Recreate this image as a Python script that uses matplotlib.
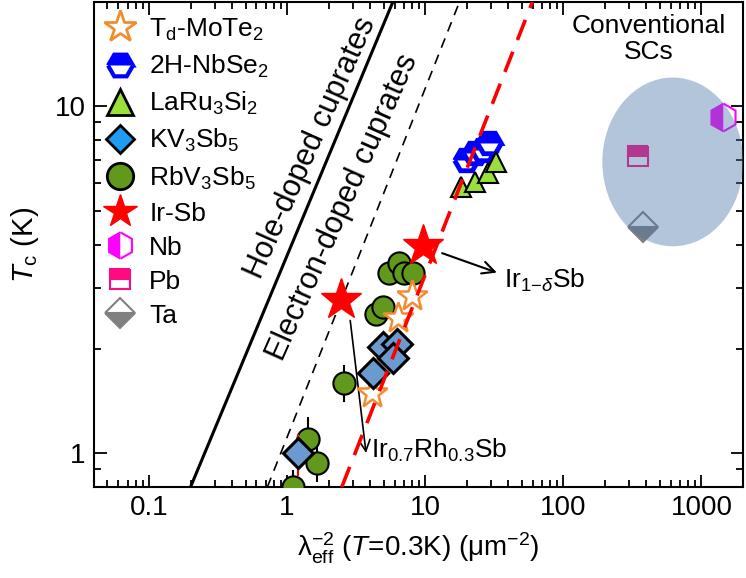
import numpy as np
import matplotlib
matplotlib.use('Agg')
import matplotlib.pyplot as plt
from matplotlib.lines import Line2D
from matplotlib.patches import Ellipse
from matplotlib import ticker

plt.rcParams['font.family'] = ['Liberation Sans', 'DejaVu Sans']
plt.rcParams['mathtext.fontset'] = 'custom'
plt.rcParams['mathtext.rm'] = 'Liberation Sans'
plt.rcParams['mathtext.it'] = 'Liberation Sans:italic'
plt.rcParams['mathtext.bf'] = 'Liberation Sans:bold'

# data
mote2_x = [4.11, 6.33, 8.0]
mote2_y = [1.49, 2.45, 2.85]
nbse2_x = [19.9, 22.8, 26.0, 29.2]
nbse2_y = [6.99, 7.32, 7.47, 7.82]
laru_x = [18.3, 22.8, 28.3, 32.3]
laru_y = [5.84, 6.04, 6.45, 6.9]
kv_x = [1.2, 4.18, 4.93, 6.23, 5.83]
kv_y = [1.0, 1.70, 2.02, 2.07, 1.88]
kv_err = [0.14, 0.06, 0.06, 0.06, 0.06]
rb_x = [1.10, 1.42, 1.65, 2.58, 4.39, 4.93, 5.5, 6.5, 7.0, 8.1]
rb_y = [0.80, 1.10, 0.94, 1.60, 2.53, 2.64, 3.30, 3.53, 3.32, 3.32]
rb_err = [0.12, 0.16, 0.12, 0.12, 0.06, 0.06, 0.06, 0.08, 0.06, 0.06]
irsb_x = [2.45, 9.6]
irsb_y = [2.76, 3.97]
nb_x, nb_y = [1430], [9.3]
pb_x, pb_y = [348], [7.18]
ta_x, ta_y = [378], [4.48]

# guide lines (end points)
hole_x, hole_y = [0.2, 5.83], [0.8, 20]
elec_x, elec_y = [0.72, 17.7], [0.8, 20]
red_x, red_y = [2.49, 59.7], [0.8, 20]

fig = plt.figure(figsize=(7.46, 5.78), dpi=100)
ax = fig.add_axes([94/746, 91/578, 649/746, 485/578])
ax.set_xscale('log')
ax.set_yscale('log')
ax.set_xlim(0.04, 2000)
ax.set_ylim(0.8, 20)

ax.plot(hole_x, hole_y, color='black', lw=2.2, zorder=2)
ax.plot(elec_x, elec_y, color='black', lw=1.2, ls=(0, (6, 4.5)), zorder=2)

# conventional SCs, under the shaded ellipse
ax.plot(nb_x, nb_y, 'h', ms=20, fillstyle='left', mfc='magenta', mfcalt='white',
        mec='magenta', mew=1.5, ls='', zorder=3)
ax.plot(pb_x, pb_y, 's', ms=15, fillstyle='top', mfc='#ff0a80', mfcalt='white',
        mec='#ff0a80', mew=1.5, ls='', zorder=3)
ax.plot(ta_x, ta_y, 'D', ms=15, fillstyle='bottom', mfc='#808080', mfcalt='white',
        mec='#808080', mew=1.5, ls='', zorder=3)
tr = ax.transScale + ax.transLimits
ex, ey = tr.transform((620, 6.92))
ax.add_patch(Ellipse((ex, ey), 0.217, 0.348, transform=ax.transAxes,
                     facecolor='#4a76a8', alpha=0.42, edgecolor='none', zorder=4))

# materials
ax.errorbar(laru_x, laru_y, yerr=np.array(laru_y)*0.05, fmt='^', ms=15, mfc='#9be03a',
            mec='black', mew=1.5, ecolor='black', elinewidth=1.2, capsize=0, zorder=5)
ax.plot(nbse2_x, nbse2_y, 'H', ms=17, fillstyle='top', mfc='blue', mfcalt='white',
        mec='blue', mew=3.5, ls='', zorder=5)
ax.errorbar(rb_x, rb_y, yerr=np.array(rb_y)*np.array(rb_err), fmt='o', ms=16, mfc='#62991c',
            mec='black', mew=1.5, ecolor='black', elinewidth=1.5, capsize=0, zorder=5)
ax.errorbar(kv_x, kv_y, yerr=np.array(kv_y)*np.array(kv_err), fmt='D', ms=15.5, mfc='#6a9bd0',
            mec='black', mew=2.2, ecolor='red', elinewidth=1.5, capsize=0, zorder=6)
ax.plot(mote2_x, mote2_y, '*', ms=23, mfc='white', mec='#f28c30', mew=1.8, ls='', zorder=6)
ax.plot(irsb_x, irsb_y, '*', ms=31, color='red', mec='red', ls='', zorder=7)

ax.plot(red_x, red_y, color='red', lw=2.6, ls=(0, (6, 3.5)), zorder=8)

# annotations
ax.annotate('', xy=(34.5, 3.30), xytext=(12.7, 3.80),
            arrowprops=dict(arrowstyle='->', color='black', lw=1.5, mutation_scale=22))
ax.text(37.5, 3.01, r'Ir$_{1\mathrm{-}\delta}$Sb', fontsize=19, ha='left', va='baseline')
ax.annotate('', xy=(3.75, 0.985), xytext=(2.85, 2.46),
            arrowprops=dict(arrowstyle='->', color='black', lw=1.2, mutation_scale=20))
ax.text(4.05, 0.974, r'Ir$_{0.7}$Rh$_{0.3}$Sb', fontsize=19, ha='left', va='baseline')

ax.text(1.49, 7.62, 'Hole-doped cuprates', fontsize=22, rotation=66,
        ha='center', va='center', rotation_mode='anchor')
ax.text(2.54, 5.12, 'Electron-doped cuprates', fontsize=22, rotation=66,
        ha='center', va='center', rotation_mode='anchor')
ax.text(0.855, 0.975, 'Conventional\nSCs', transform=ax.transAxes, fontsize=19,
        ha='center', va='top', linespacing=1.1)

# axes styling
for s in ax.spines.values():
    s.set_linewidth(1.5)
ax.tick_params(which='both', direction='in', top=True, right=True, width=1.3)
ax.tick_params(which='major', length=9, labelsize=20, pad=6)
ax.tick_params(which='minor', length=5)
ax.xaxis.set_major_locator(ticker.LogLocator(base=10, numticks=10))
ax.xaxis.set_major_formatter(ticker.FuncFormatter(lambda v, p: '{:g}'.format(v)))
ax.yaxis.set_major_formatter(ticker.FuncFormatter(lambda v, p: '{:g}'.format(v)))
ax.yaxis.set_minor_formatter(ticker.NullFormatter())
ax.xaxis.set_minor_locator(ticker.LogLocator(base=10, subs=np.arange(2, 10), numticks=20))

ax.set_xlabel(r'$\mathrm{λ}_{\mathrm{eff}}^{\mathrm{-2}}$ ($T$=0.3K) ($\mathrm{μ}$m$^{\mathrm{-2}}$)',
              fontsize=20, labelpad=7)
ax.set_ylabel(r'$T_{\mathrm{c}}$ (K)', fontsize=21, labelpad=10)

# legend
handles = [
    Line2D([], [], marker='*', ms=24, mfc='white', mec='#f28c30', mew=2, ls=''),
    Line2D([], [], marker='H', ms=18, fillstyle='top', mfc='blue', mfcalt='white', mec='blue', mew=3, ls=''),
    Line2D([], [], marker='^', ms=19, mfc='#9be03a', mec='black', mew=2, ls=''),
    Line2D([], [], marker='D', ms=14, mfc='#1e9cf0', mec='black', mew=2, ls=''),
    Line2D([], [], marker='o', ms=19, mfc='#62991c', mec='black', mew=2, ls=''),
    Line2D([], [], marker='*', ms=25, color='red', ls=''),
    Line2D([], [], marker='h', ms=19, fillstyle='left', mfc='magenta', mfcalt='white', mec='magenta', mew=1.5, ls=''),
    Line2D([], [], marker='s', ms=15, fillstyle='top', mfc='#ff0a80', mfcalt='white', mec='#ff0a80', mew=1.5, ls=''),
    Line2D([], [], marker='D', ms=15, fillstyle='bottom', mfc='#808080', mfcalt='white', mec='#808080', mew=1.5, ls=''),
]
labels = [r'T$_\mathrm{d}$-MoTe$_2$', r'2H-NbSe$_2$', r'LaRu$_3$Si$_2$', r'KV$_3$Sb$_5$',
          r'RbV$_3$Sb$_5$', 'Ir-Sb', 'Nb', 'Pb', 'Ta']
ax.legend(handles, labels, loc='upper left', frameon=False, fontsize=19,
          handlelength=0.86, handletextpad=0.68, borderaxespad=0.35, borderpad=0.2,
          labelspacing=0.38)

fig.savefig('out.png', dpi=100)
